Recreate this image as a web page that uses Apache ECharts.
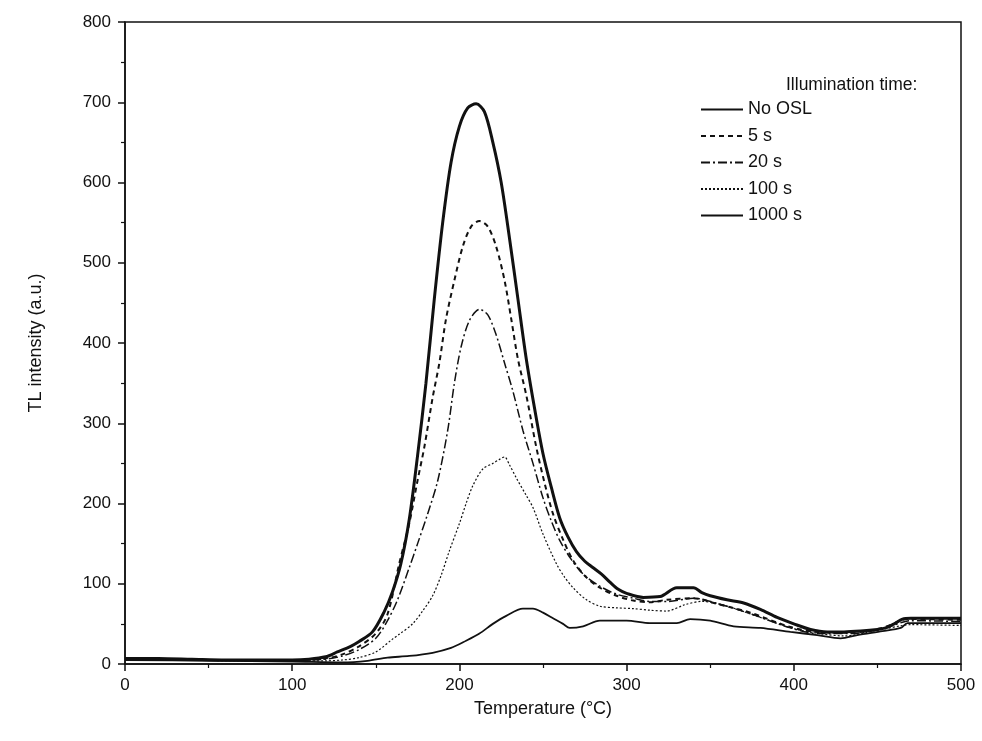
<!DOCTYPE html>
<html>
<head>
<meta charset="utf-8">
<script src="https://cdn.jsdelivr.net/npm/echarts@6/dist/echarts.min.js"></script>
<style>
html,body{margin:0;padding:0;background:#fff;}
#chart{width:982px;height:741px;}
</style>
</head>
<body>
<div id="chart"></div>
<script>
// Temperature (°C), intensity pairs
var seriesNames = ['No OSL', '5 s', '20 s', '100 s', '1000 s'];

var noOSL = [[0,7],[20,7],[40,6],[60,5],[80,5],[100,5],[110,6],[120,9],[127,15],[135,22],[140,28],[148,40],[155,65],[160,90],[165,125],[170,180],[175,260],[180,350],[185,455],[190,550],[195,625],[200,670],[205,693],[210,698],[215,688],[220,650],[225,600],[230,530],[235,455],[240,380],[245,318],[250,262],[255,220],[260,182],[265,158],[270,140],[275,128],[280,120],[285,112],[290,102],[295,93],[300,88],[310,83],[320,84],[330,95],[340,95],[345,89],[350,85],[360,80],[370,76],[380,68],[390,58],[400,50],[410,43],[420,40],[430,40],[440,41],[450,43],[455,45],[460,50],[465,56],[470,57],[500,57]];

var s5 = [[0,6],[50,5],[100,5],[120,7],[130,12],[140,22],[150,38],[157,62],[164,125],[170,175],[175,229],[179,270],[184,332],[188,375],[192,430],[197,478],[202,520],[207,545],[212,552],[217,545],[222,520],[227,478],[231,430],[235,380],[240,335],[246,270],[251,225],[256,187],[262,155],[268,129],[275,110],[284,95],[294,85],[304,79],[314,77],[324,80],[340,82],[354,75],[374,64],[398,46],[414,40],[434,39],[453,45],[465,55],[470,56],[500,55]];

var s20 = [[0,6],[100,5],[120,6],[130,10],[140,18],[150,32],[157,54],[163,80],[170,120],[175,150],[181,187],[187,228],[193,291],[197,350],[201,395],[206,428],[212,442],[217,435],[222,410],[227,375],[232,340],[238,291],[244,250],[250,207],[255,178],[260,154],[267,130],[274,112],[284,97],[294,87],[304,82],[314,78],[325,78],[340,82],[355,75],[375,62],[398,45],[414,38],[434,38],[453,44],[465,52],[470,54],[500,53]];

var s100 = [[0,5],[100,4],[120,4],[130,5],[140,8],[150,15],[160,31],[164,37],[172,50],[178,66],[184,85],[189,110],[194,141],[200,175],[204,200],[208,222],[214,243],[220,250],[224,255],[227,258],[230,248],[234,232],[240,210],[244,195],[250,162],[258,125],[263,108],[268,95],[276,80],[284,72],[294,70],[304,69],[314,67],[324,66],[335,74],[345,78],[360,72],[380,58],[400,44],[415,38],[430,35],[450,42],[465,48],[470,49],[500,48]];

var s1000 = [[0,5],[50,4],[100,3],[130,2],[145,4],[157,8],[170,10],[184,14],[195,20],[204,29],[212,38],[220,50],[228,60],[238,69],[244,69],[250,64],[256,57],[262,50],[266,45],[274,47],[284,54],[300,54],[314,51],[330,51],[338,56],[350,54],[364,47],[380,45],[398,40],[414,36],[428,32],[438,36],[453,41],[464,45],[468,51],[500,51]];

var xTicks = [0,100,200,300,400,500];
var yTicks = [0,100,200,300,400,500,600,700,800];

var allData = [noOSL, s5, s20, s100, s1000];
var styles = [
  {width:3, type:'solid'},
  {width:2, type:[5,4]},
  {width:1.5, type:[9,3,2,3]},
  {width:1.2, type:[2,2]},
  {width:1.8, type:'solid'}
];

var chart = echarts.init(document.getElementById('chart'));
var font = '"Liberation Sans", Arial, sans-serif';

var series = seriesNames.map(function(n, i){
  return {
    name: n, type: 'line', data: allData[i], symbol: 'none', smooth: 0.3,
    lineStyle: {color:'#111', width: styles[i].width, type: styles[i].type},
    itemStyle: {color:'#111'}
  };
});

chart.setOption({
  backgroundColor: '#fff',
  animation: false,
  title: {
    text: 'Illumination time:', left: 781, top: 71,
    textStyle: {fontFamily: font, fontSize: 17.5, fontWeight: 'normal', color: '#111'}
  },
  legend: {
    orient: 'vertical', left: 695, top: 95, itemWidth: 42, itemHeight: 12, itemGap: 7.5,
    data: seriesNames,
    itemStyle: {opacity: 0},
    textStyle: {fontFamily: font, fontSize: 18, color: '#111', lineHeight: 19},
    inactiveColor: '#111'
  },
  grid: {left: 125, right: 21, top: 22, bottom: 77, show: true, borderColor: '#111', borderWidth: 1.5, backgroundColor: 'transparent'},
  xAxis: {
    type: 'value', min: xTicks[0], max: xTicks[xTicks.length-1], interval: 100,
    name: 'Temperature (°C)', nameLocation: 'middle', nameGap: 36,
    nameTextStyle: {fontFamily: font, fontSize: 18, color: '#111'},
    axisLine: {lineStyle: {color: '#111', width: 1.5}},
    axisTick: {show: true, inside: false, length: 7, lineStyle: {color:'#111', width: 1.5}},
    minorTick: {show: true, splitNumber: 2, length: 4, lineStyle: {color:'#111', width: 1.2}},
    axisLabel: {fontFamily: font, fontSize: 17, color: '#111', margin: 13},
    splitLine: {show: false}
  },
  yAxis: {
    type: 'value', min: yTicks[0], max: yTicks[yTicks.length-1], interval: 100,
    name: 'TL intensity (a.u.)', nameLocation: 'middle', nameGap: 80, nameRotate: 90,
    nameTextStyle: {fontFamily: font, fontSize: 18, color: '#111'},
    axisLine: {show: true, lineStyle: {color: '#111', width: 1.5}},
    axisTick: {show: true, inside: false, length: 7, lineStyle: {color:'#111', width: 1.5}},
    minorTick: {show: true, splitNumber: 2, length: 4, lineStyle: {color:'#111', width: 1.2}},
    axisLabel: {fontFamily: font, fontSize: 17, color: '#111', margin: 14},
    splitLine: {show: false}
  },
  series: series
});
</script>
</body>
</html>
